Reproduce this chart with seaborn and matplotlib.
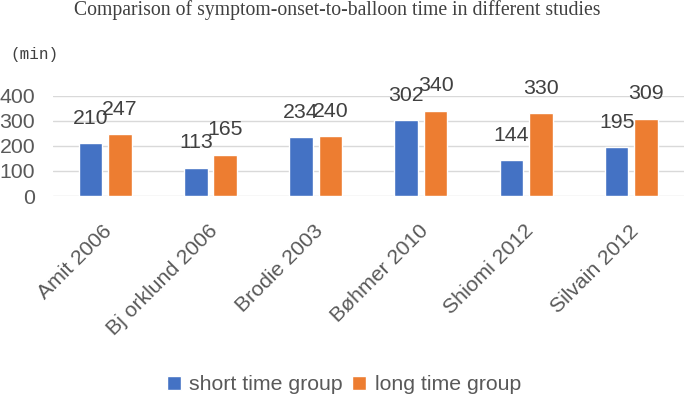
import pandas as pd
import matplotlib
matplotlib.use("Agg")
import matplotlib.pyplot as plt
import matplotlib.transforms as mtransforms
import seaborn as sns

# data
studies = ["Amit 2006", "Bj orklund 2006", "Brodie 2003", "Bøhmer 2010", "Shiomi 2012", "Silvain 2012"]
short_time = [210, 113, 234, 302, 144, 195]
long_time = [247, 165, 240, 340, 330, 309]
groups = ["short time group", "long time group"]
colors = ["#4472C4", "#ED7D31"]

df = pd.DataFrame({
    "study": studies * 2,
    "minutes": short_time + long_time,
    "group": [groups[0]] * len(studies) + [groups[1]] * len(studies),
})

sns.set_style("white")
plt.rcParams["font.family"] = ["Liberation Sans", "DejaVu Sans"]
text_grey = "#595959"
fs = 15.3

fig = plt.figure(figsize=(6.85, 4.0), dpi=100)
ax = fig.add_axes([0.0769, 0.51, 0.9216, 0.2508])

sns.barplot(data=df, x="study", y="minutes", hue="group", palette=colors,
            width=0.56, gap=0.2, ax=ax, legend=True, saturation=1)

# value labels sit well above the bars, like the Excel original
for cont in ax.containers:
    ax.bar_label(cont, padding=11, fontsize=fs, color="#404040")

ax.set_ylim(0, 400)
ax.set_xlim(-0.5, 5.5)
ax.set_yticks([0, 100, 200, 300, 400])
ax.yaxis.grid(True, color="#D9D9D9", linewidth=1.0)
ax.set_axisbelow(True)
for s in ax.spines.values():
    s.set_visible(False)
ax.set_xlabel("")
ax.set_ylabel("")
ax.tick_params(axis="y", length=0, pad=12.7, labelsize=fs, labelcolor=text_grey)
ax.tick_params(axis="x", length=0, pad=23, labelsize=fs, labelcolor=text_grey)

shift = mtransforms.ScaledTranslation(0.04, 0, fig.dpi_scale_trans)
for lab in ax.get_xticklabels():
    lab.set_rotation(45)
    lab.set_ha("right")
    lab.set_va("center")
    lab.set_rotation_mode("anchor")
    lab.set_transform(lab.get_transform() + shift)

# legend at the bottom
handles, labels = ax.get_legend_handles_labels()
ax.get_legend().remove()
fig.legend(handles, labels, loc="center", bbox_to_anchor=(0.502, 0.0375), ncol=2,
           frameon=False, fontsize=fs, labelcolor=text_grey,
           handlelength=0.65, handleheight=0.65, handletextpad=0.4, columnspacing=0.45)

fig.text(0.492, 0.974, "Comparison of symptom-onset-to-balloon time in different studies",
         ha="center", va="center", fontsize=14.2, color="#404040",
         family=["Liberation Serif", "DejaVu Serif"])
fig.text(0.0146, 0.8625, "(min)", ha="left", va="center", fontsize=11.5, color="#404040",
         family=["Liberation Mono", "DejaVu Sans Mono"])

fig.savefig("out.png", dpi=100)
